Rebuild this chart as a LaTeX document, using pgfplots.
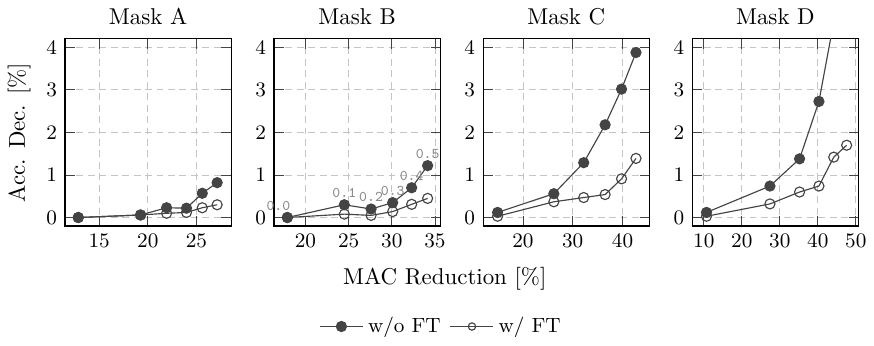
\documentclass[border=0pt]{standalone}
\usepackage{pgfplots}
\pgfplotsset{compat=1.18}
\definecolor{dk}{HTML}{444444}
\definecolor{grd}{HTML}{C4C4C4}
\definecolor{lbl}{HTML}{8A8A8A}
\pgfplotsset{
 every axis title/.style={at={(0.5,1)}, anchor=base, yshift=6.5pt, font=\normalsize},
 mystyle/.style={
  scale only axis, width=72.6pt, height=81.7pt,
  ymin=-0.2, ymax=4.2, ytick={0,1,2,3,4},
  grid=major,
  major grid style={grd, dash pattern=on 3pt off 2pt, line width=0.4pt},
  tick label style={font=\small},
  axis line style={black, line width=0.5pt},
  tick style={dk, line width=0.4pt},
  enlargelimits=false,
  legend image code/.code={\draw[mark repeat=2,mark phase=2] plot coordinates {(0cm,0cm)(0.33cm,0cm)(0.66cm,0cm)};},
 },
 wo/.style={dk, line width=0.5pt, mark=*, mark size=2.2pt, mark options={fill=dk, draw=dk, solid}},
 wft/.style={dk, line width=0.5pt, mark=o, mark size=2.2pt, mark options={fill=white, draw=dk, solid}},
}
\begin{document}
\begin{tikzpicture}
% Mask A
\begin{axis}[mystyle, title={Mask A}, xmin=11.47, xmax=28.58, xtick={15,20,25},
  ylabel={Acc. Dec. [\%]}]
\addplot[wft] coordinates {(12.84,0) (19.25,0.06) (21.93,0.10) (23.98,0.12) (25.6,0.23) (27.13,0.30)};
\addplot[wo] coordinates {(12.84,0) (19.25,0.06) (21.93,0.23) (23.98,0.22) (25.6,0.57) (27.13,0.82)};
\end{axis}
% Mask B
\begin{axis}[mystyle, at={(91.3pt,0)}, title={Mask B}, xmin=16.36, xmax=35.62, xtick={20,25,30,35}, clip=false,
  legend columns=2,
  legend style={draw=none, font=\small, at={(rel axis cs:1.012,-0.537)}, anchor=center,
    /tikz/every even column/.append style={column sep=2pt}}]
\addlegendimage{wo}\addlegendentry{w/o FT}
\addlegendimage{wft, mark size=1.6pt}\addlegendentry{w/ FT}
\addplot[wft, forget plot] coordinates {(17.9,0) (24.5,0.08) (27.6,0.05) (30.1,0.14) (32.3,0.31) (34.15,0.45)};
\addplot[wo, forget plot] coordinates {(17.9,0) (24.5,0.30) (27.6,0.20) (30.1,0.35) (32.3,0.70) (34.15,1.22)};
\addplot[only marks, mark=none, forget plot, nodes near coords, point meta=explicit symbolic,
  nodes near coords style={font=\fontsize{6.5}{7}\selectfont\ttfamily, text=lbl, anchor=center, yshift=5.2pt, xshift=-3.9pt}]
  table[meta=l] {
x y l
17.9 0 0.0
};
\addplot[only marks, mark=none, forget plot, nodes near coords, point meta=explicit symbolic,
  nodes near coords style={font=\fontsize{6.5}{7}\selectfont\ttfamily, text=lbl, anchor=center, yshift=5.2pt}]
  table[meta=l] {
x y l
24.5 0.30 0.1
27.6 0.20 0.2
30.1 0.35 0.3
32.3 0.70 0.4
34.15 1.22 0.5
};
\node at (rel axis cs:1.027,-0.282) {MAC Reduction [\%]};
\end{axis}
% Mask C
\begin{axis}[mystyle, at={(182.6pt,0)}, title={Mask C}, xmin=12, xmax=45.4, xtick={20,30,40}]
\addplot[wft] coordinates {(14.9,0.03) (26.2,0.37) (32.2,0.47) (36.5,0.54) (39.8,0.91) (42.7,1.39)};
\addplot[wo] coordinates {(14.9,0.12) (26.2,0.56) (32.2,1.29) (36.5,2.18) (39.8,3.02) (42.7,3.88)};
\end{axis}
% Mask D
\begin{axis}[mystyle, at={(273.9pt,0)}, title={Mask D}, xmin=6.95, xmax=50.72, xtick={10,20,30,40,50}]
\addplot[wft] coordinates {(10.7,0.03) (27.4,0.32) (35.2,0.60) (40.3,0.74) (44.2,1.42) (47.6,1.70)};
\addplot[wo] coordinates {(10.7,0.12) (27.4,0.74) (35.2,1.38) (40.3,2.73) (44.2,4.60) (47.6,6.40)};
\end{axis}
\end{tikzpicture}
\end{document}
